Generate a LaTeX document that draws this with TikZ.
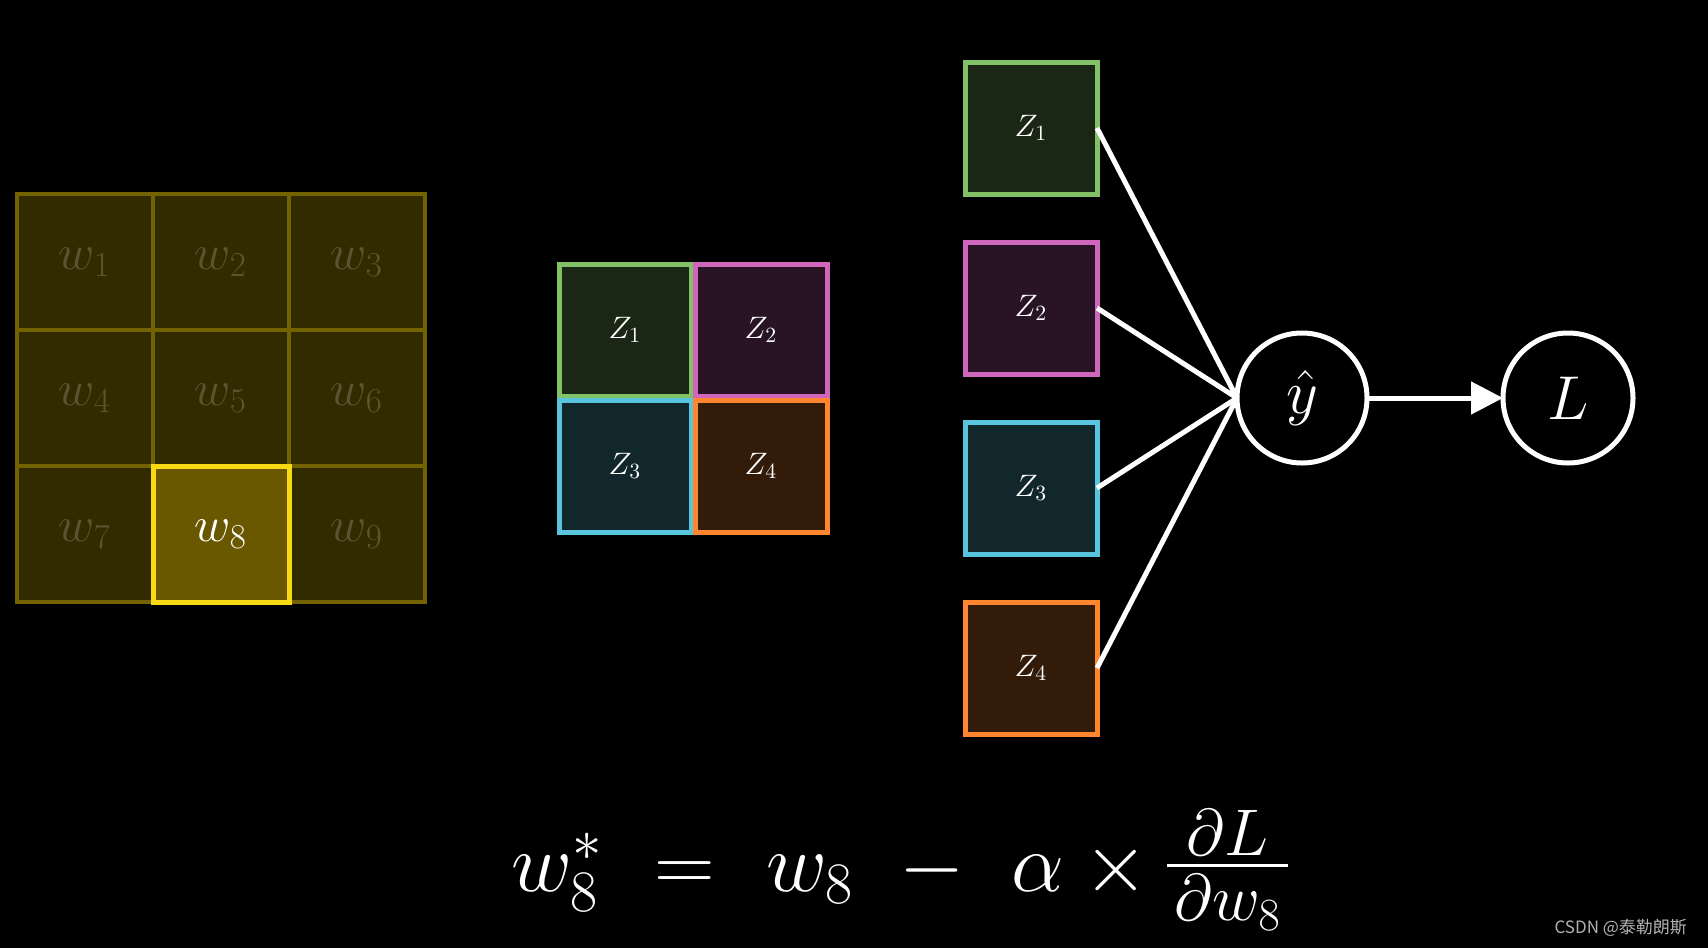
\RequirePackage{fix-cm}
\documentclass[tikz,border=0pt]{standalone}
\usepackage{amsmath}
\usepackage{fontspec}
\newfontfamily\cjk{Noto Sans CJK SC}
\usetikzlibrary{arrows.meta,positioning}

\definecolor{wfill}{HTML}{332B00}
\definecolor{wline}{HTML}{726300}
\definecolor{wtext}{HTML}{5A5532}
\definecolor{wbright}{HTML}{F7D916}
\definecolor{wfillhi}{HTML}{695800}
\definecolor{zgreen}{HTML}{83C167}
\definecolor{zpink}{HTML}{CF66BC}
\definecolor{zblue}{HTML}{58C4DD}
\definecolor{zorange}{HTML}{FF862F}

% fraction with tight gaps round the bar, set a little smaller
\newcommand{\tightfrac}[2]{\vcenter{\offinterlineskip\fontsize{33}{38}\selectfont\halign{\hfil$\mskip2mu##\mskip2mu$\hfil\cr #1\cr\noalign{\kern4.5pt\hrule height1.1pt\kern4pt}#2\cr}}}

\begin{document}
\begin{tikzpicture}[
    x=0.5pt, y=-0.5pt,
    wcell/.style={draw=wline, fill=wfill, line width=2pt, minimum size=68pt, inner sep=0pt, outer sep=0pt, text=wtext, font=\fontsize{25}{30}\selectfont},
    wpick/.style={wcell, draw=wbright, fill=wfillhi, line width=2.5pt, text=white},
    zbox/.style={draw=#1, fill=#1!20!black, line width=2.5pt, minimum size=66pt, inner sep=0pt, outer sep=0pt, text=white, font=\fontsize{15.5}{18}\selectfont},
    unit/.style={draw=white, circle, line width=2.5pt, minimum size=65pt, inner sep=0pt, outer sep=0pt, text=white, font=\fontsize{31}{36}\selectfont},
    wire/.style={draw=white, line width=2.5pt}
]
    \fill[black] (0,0) rectangle (1708,948);
    \useasboundingbox (0,0) rectangle (1708,948);

    % weight grid
    \foreach \i in {1,...,9} {
        \pgfmathtruncatemacro{\col}{mod(\i-1,3)}
        \pgfmathtruncatemacro{\row}{div(\i-1,3)}
        \ifnum\i=8\relax\else
            \node[wcell] (w\i) at (85+136*\col, 262+136*\row) {$w_{\i}$};
        \fi
    }
    \node[wpick] (w8) at (221,534) {$w_8$};

    % feature map
    \node[zbox=zgreen] (zg1) at (625,330) {$Z_1$};
    \node[zbox=zpink, right=2pt of zg1] (zg2) {$Z_2$};
    \node[zbox=zblue, below=2pt of zg1] (zg3) {$Z_3$};
    \node[zbox=zorange, right=2pt of zg3] (zg4) {$Z_4$};

    % flattened column
    \node[zbox=zgreen] (zc1) at (1031,128) {$Z_1$};
    \node[zbox=zpink, below=24pt of zc1] (zc2) {$Z_2$};
    \node[zbox=zblue, below=24pt of zc2] (zc3) {$Z_3$};
    \node[zbox=zorange, below=24pt of zc3] (zc4) {$Z_4$};

    \node[unit] (yhat) at (1302,398) {$\hat{y}$};
    \node[unit, right=68pt of yhat] (loss) {$L$};

    \foreach \k in {1,...,4}
        \draw[wire] (zc\k.east) -- (yhat.west);
    \draw[wire, -{Triangle[length=16pt,width=16pt]}] (yhat) -- (loss);

    % update rule
    \node[text=white, font=\fontsize{42}{50}\selectfont] (rule) at (900,870)
        {$w_8^{*}\mskip6mu=\mskip6mu w_8\mskip6mu-\mskip6mu\alpha\times\tightfrac{\partial L}{\partial w_8}$};

    \node[anchor=east, text=black!30, font=\cjk\fontsize{8.5}{10}\selectfont] (mark) at (1694,928) {CSDN @泰勒朗斯};
\end{tikzpicture}
\end{document}
